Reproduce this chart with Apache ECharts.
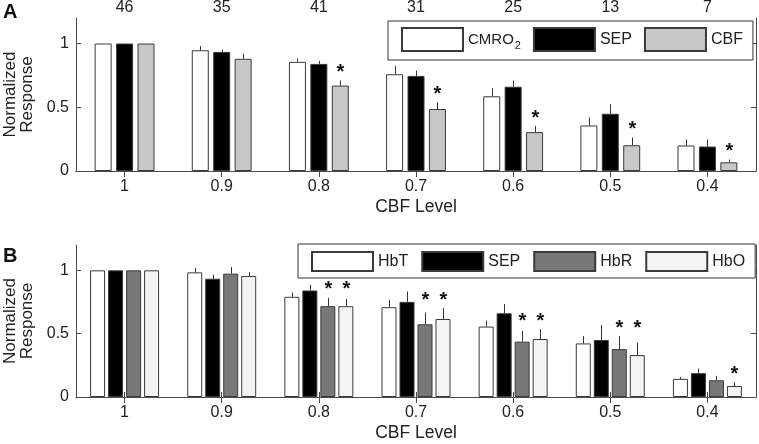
<!DOCTYPE html>
<html>
<head>
<meta charset="utf-8">
<script src="https://cdn.jsdelivr.net/npm/echarts@6/dist/echarts.min.js"></script>
<style>html,body{margin:0;padding:0;background:#fff}#c{width:759px;height:444px}</style>
</head>
<body>
<div id="c"></div>
<script>
// ---- data ----
const levels = ['1', '0.9', '0.8', '0.7', '0.6', '0.5', '0.4'];
const nTrials = ['46', '35', '41', '31', '25', '13', '7'];

// Panel A
const cmro2 = [1.0, 0.947, 0.856, 0.759, 0.586, 0.357, 0.200];
const cmro2Err = [0, 0.033, 0.026, 0.065, 0.063, 0.063, 0.047];
const sepA = [1.0, 0.934, 0.840, 0.746, 0.661, 0.449, 0.192];
const sepAErr = [0, 0.017, 0.023, 0.041, 0.048, 0.074, 0.055];
const cbf = [1.0, 0.880, 0.670, 0.486, 0.305, 0.202, 0.068];
const cbfErr = [0, 0.040, 0.040, 0.053, 0.047, 0.061, 0.022];
const cbfSig = [0, 0, 1, 1, 1, 1, 1];

// Panel B
const hbt = [1.0, 0.984, 0.791, 0.709, 0.556, 0.423, 0.143];
const hbtErr = [0, 0.036, 0.034, 0.058, 0.047, 0.058, 0.016];
const sepB = [1.0, 0.934, 0.841, 0.751, 0.661, 0.450, 0.188];
const sepBErr = [0, 0.032, 0.045, 0.082, 0.072, 0.119, 0.037];
const hbr = [1.0, 0.974, 0.717, 0.574, 0.437, 0.378, 0.132];
const hbrErr = [0, 0.053, 0.066, 0.093, 0.084, 0.103, 0.035];
const hbrSig = [0, 0, 1, 1, 1, 1, 0];
const hbo = [1.0, 0.955, 0.717, 0.616, 0.458, 0.331, 0.087];
const hboErr = [0, 0.032, 0.056, 0.085, 0.077, 0.098, 0.030];
const hboSig = [0, 0, 1, 1, 1, 1, 1];

const yTicks = [0, 0.5, 1];

// ---- helpers ----
const FONT = "'Liberation Sans', Arial, Helvetica, sans-serif";
const AX = '#4a4a4a';

function errData(seriesList) {
  const rows = [];
  for (let c = 0; c < levels.length; c++) {
    let starTop = -1;
    seriesList.forEach(s => { if (s.sig && s.sig[c]) starTop = Math.max(starTop, s.v[c] + s.e[c]); });
    seriesList.forEach((s, i) => {
      rows.push([c, i, s.v[c], s.e[c], s.sig && s.sig[c] ? 1 : 0, starTop]);
    });
  }
  return rows;
}

function makeRender(n, barW, gapFrac) {
  const step = barW * (1 + gapFrac);
  return function (params, api) {
    const c = api.value(0), i = api.value(1), v = api.value(2), e = api.value(3);
    const star = api.value(4), starTop = api.value(5);
    const base = api.coord([c, v]);
    const x = Math.round(base[0] + (i - (n - 1) / 2) * step) + 0.5;
    const children = [];
    if (e > 0) {
      const top = api.coord([c, v + e]);
      children.push({ type: 'line', shape: { x1: x, y1: base[1], x2: x, y2: top[1] },
        style: { stroke: '#333', lineWidth: 1 } });
    }
    if (star) {
      const st = api.coord([c, starTop]);
      children.push({ type: 'text', x: x, y: st[1] - 8,
        style: { text: '*', fill: '#111', font: 'bold 20px ' + FONT, align: 'center', verticalAlign: 'middle' } });
    }
    return { type: 'group', children };
  };
}

function yAxes(gridIndex) {
  return [{
    type: 'value', gridIndex, position: 'left', min: 0, max: 1.2,
    name: 'Normalized\nResponse', nameLocation: 'middle', nameGap: 40,
    nameTextStyle: { fontFamily: FONT, fontSize: 17, color: '#222', lineHeight: 17 },
    axisLine: { show: true, lineStyle: { color: AX, width: 1 } },
    axisTick: { show: true, inside: true, length: 5, customValues: yTicks, lineStyle: { color: AX } },
    axisLabel: { customValues: yTicks, fontFamily: FONT, fontSize: 16, color: '#222', margin: 7,
      formatter: v => (v === 1 ? '1' : v === 0 ? '0' : String(v)) },
    splitLine: { show: false }
  }, {
    type: 'value', gridIndex, position: 'right', min: 0, max: 1.2,
    axisLine: { show: true, lineStyle: { color: AX, width: 1 } },
    axisTick: { show: true, inside: true, length: 5, customValues: yTicks, lineStyle: { color: AX } },
    axisLabel: { show: false },
    splitLine: { show: false }
  }];
}

function xAxes(gridIndex, topLabels) {
  return [{
    type: 'category', gridIndex, position: 'bottom', data: levels,
    name: 'CBF Level', nameLocation: 'middle', nameGap: 27,
    nameTextStyle: { fontFamily: FONT, fontSize: 17.5, color: '#222' },
    axisLine: { show: true, lineStyle: { color: AX, width: 1 } },
    axisTick: { show: true, inside: true, length: 5, alignWithLabel: true, lineStyle: { color: AX } },
    axisLabel: { fontFamily: FONT, fontSize: 16, color: '#222', margin: 8 }
  }, {
    type: 'category', gridIndex, position: 'top', data: topLabels || levels,
    axisLine: { show: true, lineStyle: { color: AX, width: 1 } },
    axisTick: { show: true, inside: true, length: 6, alignWithLabel: true, lineStyle: { color: AX } },
    axisLabel: { show: !!topLabels, fontFamily: FONT, fontSize: 16, color: '#222', margin: 2 }
  }];
}

function bar(name, data, color, xi, yi, w, gap) {
  return {
    type: 'bar', name, data, xAxisIndex: xi, yAxisIndex: yi, barWidth: w, barGap: gap,
    itemStyle: { color, borderColor: '#3a3a3a', borderWidth: 1 },
    emphasis: { disabled: true }, z: 3
  };
}

const wA = 17, gA = 0.26, wB = 15, gB = 0.2;

const option = {
  animation: false,
  backgroundColor: '#fff',
  title: [
    { text: 'A', left: 3, top: 2, padding: 0, textStyle: { fontFamily: FONT, fontSize: 20, fontWeight: 'bold', color: '#111' } },
    { text: 'B', left: 3, top: 246, padding: 0, textStyle: { fontFamily: FONT, fontSize: 20, fontWeight: 'bold', color: '#111' } }
  ],
  grid: [
    { left: 76, right: 3, top: 18, height: 153, containLabel: false, outerBoundsMode: 'none' },
    { left: 76, right: 3, top: 245, height: 152, containLabel: false, outerBoundsMode: 'none' }
  ],
  xAxis: [...xAxes(0, nTrials), ...xAxes(1, null)],
  yAxis: [...yAxes(0), ...yAxes(1)],
  legend: [
    {
      data: ['CMRO2', 'SEP', 'CBF'], left: 388, top: 21, orient: 'horizontal',
      itemWidth: 61, itemHeight: 23, itemGap: 12,
      padding: [6, 10, 8, 13], borderColor: '#333', borderWidth: 1, backgroundColor: '#fff',
      selectedMode: false, icon: 'rect',
      formatter: n => (n === 'CMRO2' ? '{m|CMRO}{s|2}' : n),
      textStyle: { fontFamily: FONT, fontSize: 16, color: '#222',
        rich: { m: { fontFamily: FONT, fontSize: 15, color: '#222' },
                s: { fontFamily: FONT, fontSize: 11, color: '#222', padding: [12, 0, 0, 1] } } }
    },
    {
      data: ['HbT', 'SEP', 'HbR', 'HbO'], left: 298, top: 244, orient: 'horizontal',
      itemWidth: 61, itemHeight: 19, itemGap: 13,
      padding: [7, 10, 6, 13], borderColor: '#333', borderWidth: 1, backgroundColor: '#fff',
      selectedMode: false, icon: 'rect',
      textStyle: { fontFamily: FONT, fontSize: 16, color: '#222' }
    }
  ],
  series: [
    bar('CMRO2', cmro2, '#ffffff', 0, 0, wA, (gA * 100) + '%'),
    bar('SEP', sepA, '#000000', 0, 0, wA, (gA * 100) + '%'),
    bar('CBF', cbf, '#c8c8c8', 0, 0, wA, (gA * 100) + '%'),
    {
      type: 'custom', xAxisIndex: 0, yAxisIndex: 0, z: 5, silent: true,
      renderItem: makeRender(3, wA, gA), encode: { x: 0, y: 2 },
      data: errData([{ v: cmro2, e: cmro2Err }, { v: sepA, e: sepAErr }, { v: cbf, e: cbfErr, sig: cbfSig }])
    },
    bar('HbT', hbt, '#ffffff', 2, 2, wB, (gB * 100) + '%'),
    bar('SEP', sepB, '#000000', 2, 2, wB, (gB * 100) + '%'),
    bar('HbR', hbr, '#787878', 2, 2, wB, (gB * 100) + '%'),
    bar('HbO', hbo, '#f4f4f4', 2, 2, wB, (gB * 100) + '%'),
    {
      type: 'custom', xAxisIndex: 2, yAxisIndex: 2, z: 5, silent: true,
      renderItem: makeRender(4, wB, gB), encode: { x: 0, y: 2 },
      data: errData([{ v: hbt, e: hbtErr }, { v: sepB, e: sepBErr }, { v: hbr, e: hbrErr, sig: hbrSig }, { v: hbo, e: hboErr, sig: hboSig }])
    }
  ]
};

const chart = echarts.init(document.getElementById('c'), null, { renderer: 'canvas' });
chart.setOption(option);
</script>
</body>
</html>
